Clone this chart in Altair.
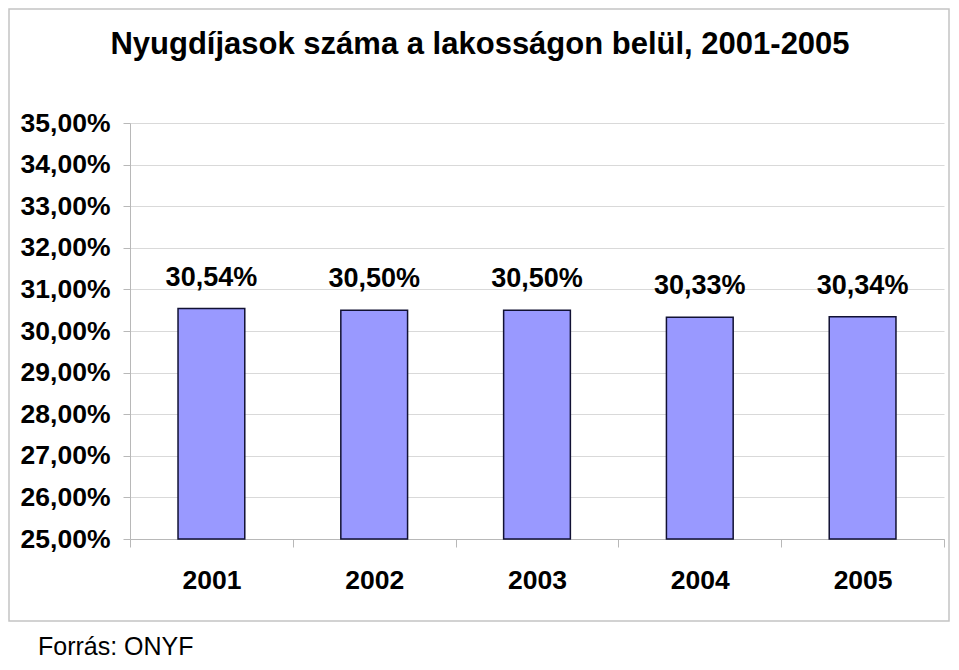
import altair as alt
import pandas as pd

years = ["2001", "2002", "2003", "2004", "2005"]
values = [30.54, 30.50, 30.50, 30.33, 30.34]
y_ticks = [25, 26, 27, 28, 29, 30, 31, 32, 33, 34, 35]
title_text = "Nyugdíjasok száma a lakosságon belül, 2001-2005"
source_text = "Forrás: ONYF"

FONT = "Liberation Sans"
GRID = "#d9d9d9"
AXIS = "#b8b8b8"
fmt = "replace(format(datum.value, '.2f'), '.', ',') + '%'"

df = pd.DataFrame({"year": years, "value": values})
base = alt.Chart(df).transform_calculate(label=fmt)

x = alt.X(
    "year:N", sort=years, title=None,
    scale=alt.Scale(paddingInner=0, paddingOuter=0),
    axis=alt.Axis(labelAngle=0, labelFont=FONT, labelFontSize=26.5, labelFontWeight="bold",
                  labelColor="black", labelPadding=20, tickBand="extent", tickSize=8,
                  tickColor=AXIS, domainColor=AXIS, grid=False),
)
y = alt.Y(
    "value:Q", title=None,
    scale=alt.Scale(domain=[25, 35], nice=False, zero=False),
    axis=alt.Axis(values=y_ticks, labelExpr=fmt, labelFont=FONT, labelFontSize=26.5,
                  labelFontWeight="bold", labelColor="black", labelPadding=13, tickSize=7,
                  tickColor=AXIS, domainColor=AXIS, gridColor=GRID, gridWidth=1),
)

bars = base.mark_bar(width={"band": 0.41}, fill="#9999FF", stroke="#111133",
                     strokeWidth=1.5).encode(x=x, y=y, y2=alt.datum(25))

labels = base.mark_text(baseline="bottom", dy=-17, font=FONT, fontSize=27,
                        fontWeight="bold", color="black").encode(x=x, y="value:Q", text="label:N")

frame = alt.Chart(alt.Data(values=[{}])).mark_rect(
    fill=None, stroke="#c4c4c4", strokeWidth=1.5
).encode(x=alt.value(-121), x2=alt.value(819), y=alt.value(-114), y2=alt.value(498))

source = alt.Chart(alt.Data(values=[{"t": source_text}])).mark_text(
    align="left", baseline="alphabetic", font=FONT, fontSize=25, color="black"
).encode(x=alt.value(-92), y=alt.value(532), text="t:N")

chart = alt.layer(frame, bars, labels, source).properties(
    width=814, height=416,
    autosize=alt.AutoSizeParams(type="none"),
    padding={"left": 122, "top": 115, "right": 6, "bottom": 123},
    title=alt.TitleParams(title_text, font=FONT, fontSize=31, fontWeight="bold",
                          color="black", anchor="middle", frame="group", dx=-57,
                          baseline="alphabetic", offset=-77),
).configure_view(stroke=None)

chart.save("out.html", embed_options={"renderer": "svg", "actions": False})
